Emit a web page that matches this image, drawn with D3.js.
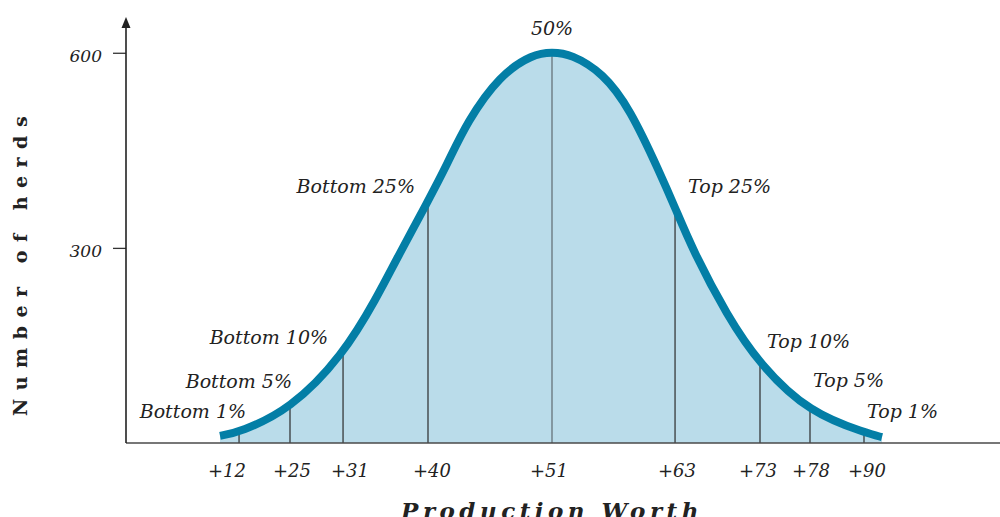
<!DOCTYPE html>
<html><head><meta charset="utf-8">
<script src="https://cdn.jsdelivr.net/npm/d3@7"></script>
<style>
html,body{margin:0;padding:0;background:#fff;}
svg{display:block;}
</style></head>
<body>
<svg id="chart" width="1000" height="517"></svg>
<script>
// ---- data ----
// curve: position along the worth axis (standard-deviation units from the median) and number of herds
const curvePos   = [-2.075, -1.95, -1.6375, -1.306, -1.094, -0.969, -0.775, -0.656, -0.531, -0.325, -0.119, 0, 0.119, 0.319, 0.4875, 0.675, 0.769, 0.881, 1.094, 1.3, 1.6125, 1.969, 2.0625];
const curveHerds = [11, 17, 51, 135, 224, 284, 372, 428, 494, 566, 598, 601, 598, 569, 514, 415, 362, 296, 196, 120, 46, 15, 9];
// percentile break points on the worth axis
const breakPos    = [-1.956, -1.6375, -1.306, -0.775, 0, 0.769, 1.3, 1.6125, 1.95];
const breakLabels = ["+12", "+25", "+31", "+40", "+51", "+63", "+73", "+78", "+90"];
const groupLabels = ["Bottom 1%", "Bottom 5%", "Bottom 10%", "Bottom 25%", "50%", "Top 25%", "Top 10%", "Top 5%", "Top 1%"];
const yTicks = [300, 600];
const yTitle = "Number of herds";
const xTitle = "Production Worth";

// ---- layout ----
const W = 1000, H = 517;
const margin = {left: 126, top: 17, right: 0, bottom: 74};
const x = d3.scaleLinear().domain([-2.6625, 2.8]).range([margin.left, W - margin.right]);
const y = d3.scaleLinear().domain([0, 655]).range([H - margin.bottom, margin.top]);
const base = y(0);

const svg = d3.select("#chart");
const pts = curvePos.map((p, i) => [p, curveHerds[i]]);
const curve = d3.curveBasis;
const area = d3.area().x(d => x(d[0])).y0(base).y1(d => y(d[1])).curve(curve);
const line = d3.line().x(d => x(d[0])).y(d => y(d[1])).curve(curve);

svg.append("clipPath").attr("id", "under").append("path").attr("d", area(pts));

svg.append("path").attr("d", area(pts)).attr("fill", "#badcea");

// percentile lines (clipped to the area under the curve)
svg.append("g").attr("clip-path", "url(#under)")
  .selectAll("line").data(breakPos).join("line")
  .attr("x1", d => x(d)).attr("x2", d => x(d))
  .attr("y1", base).attr("y2", y(655))
  .attr("stroke", (d, i) => i === 4 ? "#5f6a70" : "#2b2b2b")
  .attr("stroke-width", 1.2);

// x baseline
svg.append("line").attr("x1", margin.left).attr("x2", W).attr("y1", base).attr("y2", base)
  .attr("stroke", "#4a4a4a").attr("stroke-width", 1.6);

// curve
const curvePath = svg.append("path").attr("d", line(pts)).attr("fill", "none")
  .attr("stroke", "#037ea6").attr("stroke-width", 8).attr("stroke-linecap", "butt");

// y axis
const yAxis = d3.axisLeft(y).tickValues(yTicks).tickSize(13).tickPadding(11);
const gy = svg.append("g").attr("transform", `translate(${margin.left},0)`).call(yAxis);
gy.select(".domain").remove();
gy.selectAll(".tick line").attr("stroke", "#333").attr("stroke-width", 1.3);
gy.selectAll(".tick text").attr("font-family", "DejaVu Serif").attr("font-style", "italic")
  .attr("font-size", 17).attr("fill", "#222").attr("dy", "0.5em");
svg.append("line").attr("x1", margin.left).attr("x2", margin.left).attr("y1", base).attr("y2", margin.top + 8)
  .attr("stroke", "#222").attr("stroke-width", 1.6);
svg.append("path")
  .attr("d", `M${margin.left},${margin.top} L${margin.left - 4.5},${margin.top + 11} L${margin.left + 4.5},${margin.top + 11} Z`)
  .attr("fill", "#222");

// x tick labels
const tickDx = [-12, 2, 7, 4, -3, 2, -2, 1, 3];
svg.append("g").selectAll("text").data(breakLabels).join("text")
  .attr("x", (d, i) => x(breakPos[i]) + tickDx[i]).attr("y", 477)
  .attr("text-anchor", "middle")
  .attr("font-family", "DejaVu Serif").attr("font-style", "italic").attr("font-size", 18)
  .attr("fill", "#222").text(d => d);

// y of the drawn curve at a given pixel x
const node = curvePath.node(), total = node.getTotalLength();
const curveYAt = px => {
  let lo = 0, hi = total;
  for (let k = 0; k < 30; k++) {
    const mid = (lo + hi) / 2;
    if (node.getPointAtLength(mid).x < px) lo = mid; else hi = mid;
  }
  return node.getPointAtLength(lo).y;
};

// group labels
const lblOff = [[7, -13, "end"], [2, -17, "end"], [-15, -6, "end"], [-13, -8, "end"], [0, -18, "middle"],
                [13, -15, "start"], [7, -13, "start"], [3, -21, "start"], [3, -14, "start"]];
svg.append("g").selectAll("text").data(groupLabels).join("text")
  .attr("x", (d, i) => x(breakPos[i]) + lblOff[i][0])
  .attr("y", (d, i) => curveYAt(x(breakPos[i])) + lblOff[i][1])
  .attr("text-anchor", (d, i) => lblOff[i][2])
  .attr("font-family", "DejaVu Serif").attr("font-style", "italic").attr("font-size", 19)
  .attr("fill", "#222").text(d => d);

// axis titles
svg.append("text").attr("transform", `translate(27,262) rotate(-90)`)
  .attr("text-anchor", "middle").attr("font-family", "DejaVu Serif").attr("font-weight", "bold")
  .attr("font-size", 19).attr("letter-spacing", 8.5).attr("fill", "#222").text(yTitle);
svg.append("text").attr("x", 552).attr("y", 519)
  .attr("text-anchor", "middle").attr("font-family", "DejaVu Serif").attr("font-weight", "bold")
  .attr("font-style", "italic").attr("font-size", 23).attr("letter-spacing", 4.5).attr("fill", "#222").text(xTitle);
</script>
</body></html>
